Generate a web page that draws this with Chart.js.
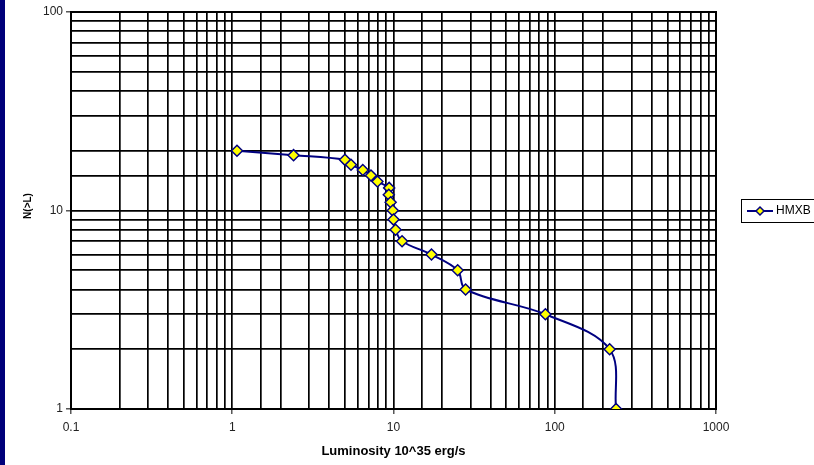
<!DOCTYPE html>
<html>
<head>
<meta charset="utf-8">
<script src="https://cdn.jsdelivr.net/npm/chart.js@4.4.0/dist/chart.umd.min.js"></script>
<style>
  html, body { margin: 0; padding: 0; background: #fff; }
  canvas { display: block; }
</style>
</head>
<body>
<canvas id="lumChart" width="814" height="465"></canvas>
<script>
// HMXB cumulative luminosity function
const luminosity = [1.07, 2.4, 5.0, 5.45, 6.45, 7.25, 7.95, 9.4, 9.35, 9.6, 9.9, 10.0, 10.3, 11.3, 17.2, 25, 28, 87.5, 219, 240];
const counts = [20, 19, 18, 17, 16, 15, 14, 13, 12, 11, 10, 9, 8, 7, 6, 5, 4, 3, 2, 1];
const seriesLabel = 'HMXB';
const xRange = [0.1, 1000];
const yRange = [1, 100];
const xTitle = 'Luminosity 10^35 erg/s';
const yTitle = 'N(>L)';

const navy = '#000080';
const font = 'Liberation Sans, Arial, sans-serif';

const isDecade = v => Math.abs(Math.log10(v) - Math.round(Math.log10(v))) < 1e-9;

// Blue strip at the left edge, plot frame, axis titles and the boxed legend
const decorations = {
    id: 'decorations',
    beforeDraw(chart) {
        const ctx = chart.ctx;
        ctx.save();
        ctx.fillStyle = '#fff';
        ctx.fillRect(0, 0, chart.width, chart.height);
        ctx.fillStyle = '#00007a';
        ctx.fillRect(0, 0, 5, chart.height);
        ctx.restore();
    },
    beforeDatasetsDraw(chart) {
        const { ctx, chartArea: a } = chart;
        ctx.save();
        ctx.strokeStyle = '#000';
        ctx.lineWidth = 2;
        ctx.strokeRect(a.left, a.top, a.right - a.left, a.bottom - a.top);
        ctx.restore();
    },
    afterDraw(chart) {
        const { ctx, chartArea: a } = chart;
        ctx.save();
        ctx.fillStyle = '#000';
        ctx.font = 'bold 13px ' + font;
        ctx.textAlign = 'center';
        ctx.textBaseline = 'middle';
        ctx.fillText(xTitle, (a.left + a.right) / 2, 451);
        ctx.font = 'bold 10px ' + font;
        ctx.translate(28, 206);
        ctx.rotate(-Math.PI / 2);
        ctx.fillText(yTitle, 0, 0);
        ctx.restore();

        // legend
        ctx.save();
        ctx.strokeStyle = '#000';
        ctx.lineWidth = 1;
        ctx.strokeRect(741.5, 199.5, 80, 23);
        ctx.strokeStyle = navy;
        ctx.lineWidth = 2;
        ctx.beginPath();
        ctx.moveTo(747, 211);
        ctx.lineTo(773, 211);
        ctx.stroke();
        ctx.fillStyle = '#ffff00';
        ctx.lineWidth = 1.5;
        ctx.beginPath();
        ctx.moveTo(760, 207);
        ctx.lineTo(764, 211);
        ctx.lineTo(760, 215);
        ctx.lineTo(756, 211);
        ctx.closePath();
        ctx.fill();
        ctx.stroke();
        ctx.fillStyle = '#000';
        ctx.font = '12px ' + font;
        ctx.textAlign = 'left';
        ctx.textBaseline = 'middle';
        ctx.fillText(chart.data.datasets[0].label, 776, 211);
        ctx.restore();
    }
};

const gridOptions = {
    color: '#000',
    lineWidth: 1.7,
    tickLength: 5,
    tickWidth: 1,
    tickColor: c => (c.tick && isDecade(c.tick.value)) ? '#000' : 'rgba(0,0,0,0)'
};

const ctx = document.querySelector('#lumChart').getContext('2d');
new Chart(ctx, {
    type: 'scatter',
    data: {
        datasets: [{
            label: seriesLabel,
            data: luminosity.map((x, i) => ({ x: x, y: counts[i] })),
            showLine: true,
            borderColor: navy,
            borderWidth: 2,
            tension: 0.35,
            pointStyle: 'rectRot',
            pointRadius: 5.5,
            pointHoverRadius: 5.5,
            pointBackgroundColor: '#ffff00',
            pointBorderColor: navy,
            pointBorderWidth: 1.5
        }]
    },
    options: {
        responsive: false,
        animation: false,
        devicePixelRatio: 1,
        layout: { padding: { top: 12, right: 98, left: 0, bottom: 0 } },
        plugins: {
            legend: { display: false },
            tooltip: { enabled: false }
        },
        scales: {
            x: {
                type: 'logarithmic',
                min: xRange[0],
                max: xRange[1],
                grid: gridOptions,
                border: { display: true, color: '#000', width: 2 },
                ticks: {
                    color: '#222',
                    font: { family: font, size: 12 },
                    padding: 6,
                    autoSkip: false,
                    maxRotation: 0,
                    callback: v => isDecade(v) ? String(v) : ''
                },
                afterFit: s => { s.height = 56; }
            },
            y: {
                type: 'logarithmic',
                min: yRange[0],
                max: yRange[1],
                grid: gridOptions,
                border: { display: true, color: '#000', width: 2 },
                ticks: {
                    color: '#222',
                    font: { family: font, size: 12 },
                    padding: 3,
                    autoSkip: false,
                    callback: v => isDecade(v) ? String(v) : ''
                },
                afterFit: s => { s.width = 71; }
            }
        }
    },
    plugins: [decorations]
});
</script>
</body>
</html>
